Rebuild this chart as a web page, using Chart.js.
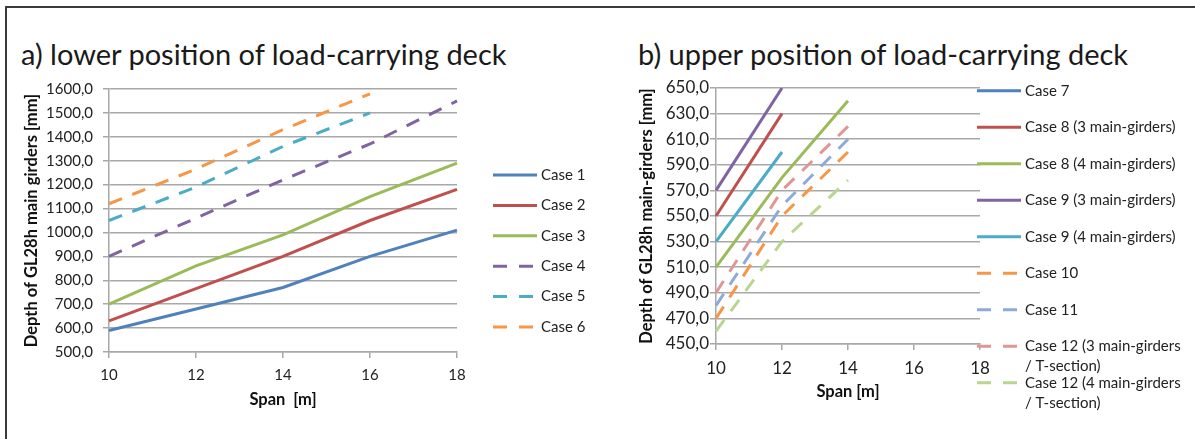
<!DOCTYPE html>
<html>
<head>
<meta charset="utf-8">
<script src="https://cdn.jsdelivr.net/npm/chart.js@4"></script>
<style>
  body { margin: 0; background: #fff; width: 1195px; height: 439px; overflow: hidden; position: relative; }
  .frame { position: absolute; left: 5px; top: 6px; width: 1210px; height: 450px; border-top: 2px solid #3a3a3a; border-left: 2px solid #3a3a3a; }
  .ttl { position: absolute; font: 400 29px Lato, sans-serif; line-height: 34px; color: #1a1a1a; white-space: nowrap; }
  #boxA { position: absolute; left: 0; top: 70px; width: 615px; height: 360px; }
  #boxB { position: absolute; left: 620px; top: 70px; width: 575px; height: 369px; }
</style>
</head>
<body>
<div class="frame"></div>
<div class="ttl" style="left:21px; top:37px;">a) lower position of load-carrying deck</div>
<div class="ttl" style="left:638px; top:37px;">b) upper position of load-carrying deck</div>
<div id="boxA"><canvas id="chartA"></canvas></div>
<div id="boxB"><canvas id="chartB"></canvas></div>

<script>
// span categories (x axis)
const spans = ['10', '12', '14', '16', '18'];

// a) lower position of load-carrying deck
const namesA = ['Case 1', 'Case 2', 'Case 3', 'Case 4', 'Case 5', 'Case 6'];
const case1 = [590, 680, 770, 900, 1010];
const case2 = [630, 765, 900, 1050, 1180];
const case3 = [700, 860, 990, 1150, 1290];
const case4 = [900, 1060, 1220, 1370, 1550];
const case5 = [1050, 1190, 1360, 1500];
const case6 = [1120, 1265, 1430, 1580];

// b) upper position of load-carrying deck
const namesB = ['Case 7', 'Case 8 (3 main-girders)', 'Case 8 (4 main-girders)', 'Case 9 (3 main-girders)',
  'Case 9 (4 main-girders)', 'Case 10', 'Case 11', 'Case 12 (3 main-girders\n/ T-section)', 'Case 12 (4 main-girders\n/ T-section)'];
const case7 = [null, null, null];           // not visible inside the plotted range
const case8a = [550, 630];
const case8b = [510, 580, 640];
const case9a = [570, 650];
const case9b = [530, 600];
const case10 = [470, 550, 600];
const case11 = [480, 558, 610];
const case12a = [490, 570, 620];
const case12b = [460, 530, 578];

// y tick ranges
const yTicksA = { min: 500, max: 1600, step: 100 };
const yTicksB = { min: 450, max: 650, step: 20 };

const colorsA = ['#4f81bd', '#c0504d', '#9bbb59', '#8064a2', '#4bacc6', '#f79646'];
const colorsB = ['#4f81bd', '#c0504d', '#9bbb59', '#8064a2', '#4bacc6', '#f79646', '#8eaad9', '#e09694', '#b9d590'];
const DASH = [14, 11];

const fmt = v => v.toFixed(1).replace('.', ',');
const gridCol = '#a8a8a8';
const txtCol = '#222';

// legend drawn beside the plot, from the datasets
const caseLegend = {
  id: 'caseLegend',
  afterDraw(chart, args, o) {
    const ctx = chart.ctx;
    ctx.save();
    chart.data.datasets.forEach((ds, i) => {
      const y = o.y0 + i * o.dy;
      const dashed = ds.borderDash && ds.borderDash.length;
      ctx.strokeStyle = ds.borderColor;
      ctx.lineWidth = 3;
      ctx.setLineDash(dashed ? [14, 12] : []);
      ctx.beginPath();
      ctx.moveTo(o.x, y);
      ctx.lineTo(o.x + (dashed ? 40 : 44), y);
      ctx.stroke();
      ctx.setLineDash([]);
      ctx.fillStyle = txtCol;
      ctx.font = o.font;
      ctx.textBaseline = 'middle';
      ds.label.split('\n').forEach((t, k) => ctx.fillText(t, o.x + 48, y + k * 20));
    });
    ctx.restore();
  }
};

function makeSets(names, values, colors, dashedFrom) {
  return names.map((n, i) => ({
    label: n,
    data: values[i],
    borderColor: colors[i],
    backgroundColor: colors[i],
    borderWidth: 3,
    borderDash: i >= dashedFrom ? DASH : [],
    pointRadius: 0,
    tension: 0,
    fill: false
  }));
}

function makeOptions(cfg) {
  return {
    responsive: true,
    maintainAspectRatio: false,
    animation: false,
    layout: { padding: cfg.padding },
    plugins: {
      legend: { display: false },
      tooltip: { enabled: false },
      caseLegend: cfg.legend
    },
    scales: {
      x: {
        type: 'category',
        offset: false,
        grid: { drawOnChartArea: false, drawTicks: true, tickLength: 6, color: gridCol, lineWidth: 1.5 },
        border: { color: gridCol, width: 1.5 },
        ticks: { color: txtCol, font: { family: 'Lato', size: cfg.tickSize }, padding: 8, maxRotation: 0, autoSkip: false },
        title: { display: true, text: cfg.xTitle, color: '#111', font: { family: 'Lato', size: 16.5, weight: 'bold' }, padding: { top: 0, bottom: 2 } },
        afterFit(s) { s.height = 60; }
      },
      y: {
        min: cfg.y.min,
        max: cfg.y.max,
        grid: { color: gridCol, lineWidth: 1.5, tickLength: 6 },
        border: { color: gridCol, width: 1.5 },
        ticks: { stepSize: cfg.y.step, color: txtCol, font: { family: 'Lato', size: cfg.tickSize }, padding: cfg.yPad, callback: v => fmt(v) },
        title: { display: true, text: cfg.yTitle, color: '#111', font: { family: 'Lato', size: 16.5, weight: 'bold' }, padding: { top: cfg.yTitlePad, bottom: 0 } },
        afterFit(s) { s.width = cfg.yWidth; }
      }
    }
  };
}

new Chart(document.getElementById('chartA'), {
  type: 'line',
  data: { labels: spans, datasets: makeSets(namesA, [case1, case2, case3, case4, case5, case6], colorsA, 3) },
  options: makeOptions({
    padding: { left: 20, top: 18, right: 158, bottom: 18 },
    yWidth: 89, yPad: 10, yTitlePad: 2, tickSize: 15,
    y: yTicksA,
    xTitle: 'Span  [m]',
    yTitle: 'Depth of GL28h main girders [mm]',
    legend: { x: 493, y0: 105, dy: 30.4, font: '15px Lato' }
  }),
  plugins: [caseLegend]
});

new Chart(document.getElementById('chartB'), {
  type: 'line',
  data: { labels: spans, datasets: makeSets(namesB, [case7, case8a, case8b, case9a, case9b, case10, case11, case12a, case12b], colorsB, 5) },
  options: makeOptions({
    padding: { left: 14, top: 18, right: 215, bottom: 35 },
    yWidth: 82, yPad: 1, yTitlePad: 3, tickSize: 17,
    y: yTicksB,
    xTitle: 'Span [m]',
    yTitle: 'Depth of GL28h main-girders [mm]',
    legend: { x: 357, y0: 20.7, dy: 36.5, font: '15px Lato' }
  }),
  plugins: [caseLegend]
});
</script>
</body>
</html>
